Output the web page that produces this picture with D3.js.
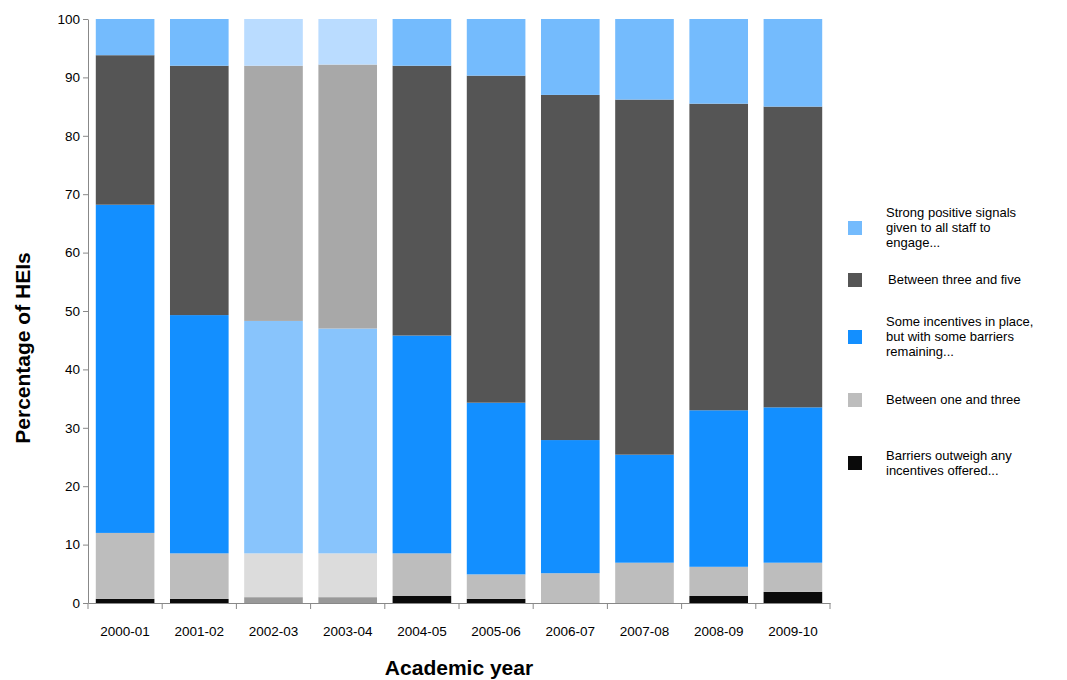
<!DOCTYPE html>
<html><head><meta charset="utf-8">
<script src="https://cdn.jsdelivr.net/npm/d3@7"></script>
<style>body{margin:0;background:#fff;font-family:"Liberation Sans",Arial,sans-serif}</style>
</head><body><div id="chart"></div>
<script>
const years = ["2000-01","2001-02","2002-03","2003-04","2004-05","2005-06","2006-07","2007-08","2008-09","2009-10"];
// segment sizes per series (bottom to top)
const barriers = [0.7,0.7,1.0,1.0,1.2,0.7,0,0,1.2,1.9];
const oneThree = [11.3,7.8,7.5,7.5,7.3,4.2,5.1,6.9,5.0,5.0];
const someInc = [56.2,40.8,39.8,38.5,37.3,29.4,22.8,18.5,26.8,26.6];
const threeFive = [25.6,42.7,43.7,45.2,46.2,56.0,59.1,60.8,52.5,51.5];
const strong = [6.2,8.0,8.0,7.8,8.0,9.7,13.0,13.8,14.5,15.0];
const colors = ["#0a0a0a","#bdbdbd","#138fff","#555555","#74bbfd"];
const fadedColors = ["#999999","#dcdcdc","#88c4fc","#a8a8a8","#badcff"];
const faded = ["2002-03","2003-04"];

const W = 1067, H = 680;
const svg = d3.select("#chart").append("svg").attr("width", W).attr("height", H);
const x = d3.scaleBand().domain(years).range([88, 830]).paddingInner(0.21).paddingOuter(0.105);
const y = d3.scaleLinear().domain([0, 100]).range([603, 19]);

const rows = years.map((yr, i) => ({year: yr, v: [barriers[i], oneThree[i], someInc[i], threeFive[i], strong[i]]}));
rows.forEach(r => {
  let acc = 0;
  r.v.forEach((val, k) => {
    const y0 = acc; acc += val;
    if (val <= 0) return;
    svg.append("rect").attr("x", x(r.year)).attr("width", x.bandwidth())
      .attr("y", y(Math.min(acc, 100))).attr("height", y(y0) - y(Math.min(acc, 100)))
      .attr("fill", faded.includes(r.year) ? fadedColors[k] : colors[k]);
  });
});

const ya = svg.append("g").attr("transform", "translate(88,0)")
  .call(d3.axisLeft(y).ticks(10).tickSize(5).tickSizeOuter(0));
const xa = svg.append("g").attr("transform", "translate(0,603)")
  .call(d3.axisBottom(x).tickSize(0).tickSizeOuter(0));
xa.selectAll("text").attr("dy", "2.2em");
// category boundary ticks
svg.selectAll(".bt").data(d3.range(years.length + 1)).enter().append("line")
  .attr("x1", d => 88 + d * 74.2).attr("x2", d => 88 + d * 74.2)
  .attr("y1", 603).attr("y2", 609).attr("stroke", "#888");
[ya, xa].forEach(a => { a.selectAll("path,line").attr("stroke", "#888"); a.selectAll("text").attr("font-size", 13.5).attr("fill", "#000").attr("font-family", "Liberation Sans, Arial"); });

svg.append("text").attr("x", 459).attr("y", 675).attr("text-anchor", "middle")
  .attr("font-size", 21).attr("font-weight", "bold").text("Academic year");
svg.append("text").attr("transform", "translate(30,348) rotate(-90)").attr("text-anchor", "middle")
  .attr("font-size", 21).attr("font-weight", "bold").text("Percentage of HEIs");

const legend = [
  {k: 4, y: 227, lines: ["Strong positive signals", "given to all staff to", "engage..."]},
  {k: 3, y: 279, lines: ["Between three and five"]},
  {k: 2, y: 336, lines: ["Some incentives in place,", "but with some barriers", "remaining..."]},
  {k: 1, y: 399, lines: ["Between one and three"]},
  {k: 0, y: 462, lines: ["Barriers outweigh any", "incentives offered..."]}
];
legend.forEach(l => {
  svg.append("rect").attr("x", 848).attr("y", l.y - 6).attr("width", 14).attr("height", 14).attr("fill", colors[l.k]);
  const n = l.lines.length;
  l.lines.forEach((t, j) => {
    svg.append("text").attr("x", l.k === 3 ? 888 : 886).attr("y", l.y + 5 + (j - (n - 1) / 2) * 15)
      .attr("font-size", 13).text(t);
  });
});
</script></body></html>
